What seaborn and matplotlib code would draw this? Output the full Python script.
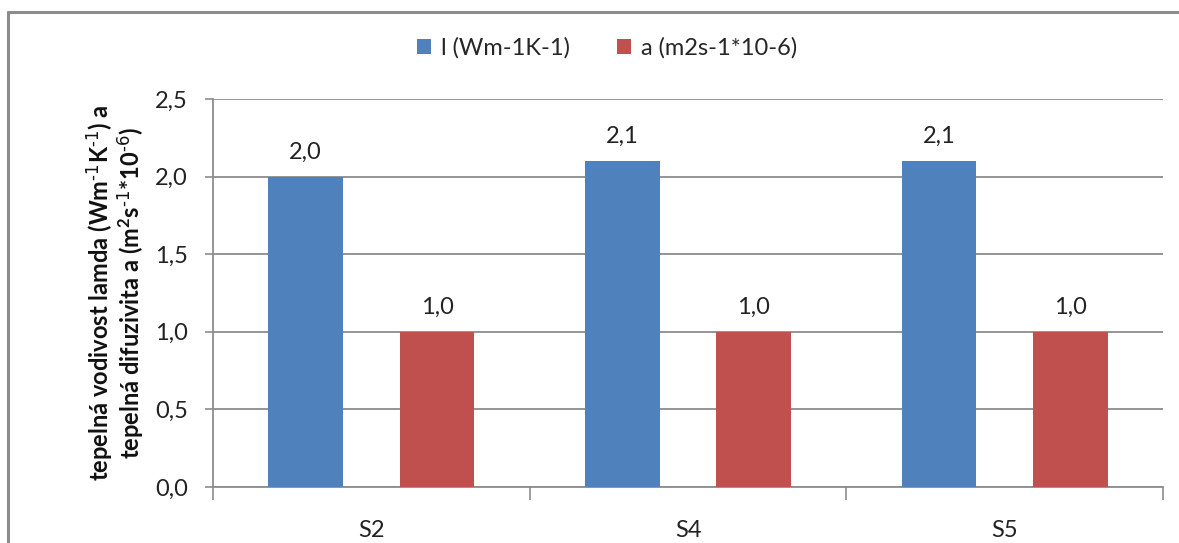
import matplotlib
matplotlib.use("Agg")
import matplotlib.pyplot as plt
import seaborn as sns
import pandas as pd
from matplotlib.lines import Line2D
from matplotlib.patches import Patch

categories = ["S2", "S4", "S5"]
series_names = ["l (Wm-1K-1)", "a (m2s-1*10-6)"]
lamda_values = [2.0, 2.1, 2.1]
difuz_values = [1.0, 1.0, 1.0]
yticks = [0.0, 0.5, 1.0, 1.5, 2.0, 2.5]
colors = ["#4F81BD", "#C0504D"]

df = pd.DataFrame({
    "cat": categories * 2,
    "series": [series_names[0]] * 3 + [series_names[1]] * 3,
    "val": lamda_values + difuz_values,
})

sns.set_theme(style="white")
plt.rcParams["font.family"] = ["Lato", "DejaVu Sans"]
plt.rcParams["mathtext.default"] = "regular"

fig = plt.figure(figsize=(11.79, 5.43), dpi=100)
ax = fig.add_axes([213/1179, 1-487/543, (1163-213)/1179, (487-99)/543])

sns.barplot(data=df, x="cat", y="val", hue="series", palette=colors,
            width=0.83, gap=0.43, ax=ax, legend=False, saturation=1,
            errorbar=None, zorder=3, linewidth=0, edgecolor="none")

ax.set_ylim(0, 2.5)
ax.set_xlim(-0.5, 2.5)
ax.set_yticks(yticks)
ax.set_yticklabels([f"{v:.1f}".replace(".", ",") for v in yticks], fontsize=17, color="#222222")
ax.yaxis.grid(True, color="#8c8c8c", linewidth=1.3, zorder=0)
ax.set_axisbelow(True)
ax.tick_params(axis="y", length=6, width=1.2, color="#8c8c8c", direction="out", left=True, pad=12)

# x ticks at category boundaries
ax.set_xticks([-0.5, 0.5, 1.5, 2.5], minor=False)
ax.set_xticklabels([])
ax.set_xticks([0, 1, 2], minor=True)
ax.set_xticklabels(categories, minor=True, fontsize=17, color="#222222")
ax.tick_params(axis="x", which="major", length=9, width=1.2, color="#8c8c8c", bottom=True)
ax.tick_params(axis="x", which="minor", length=0, pad=24)

for s in ["top", "right"]:
    ax.spines[s].set_visible(False)
for s in ["left", "bottom"]:
    ax.spines[s].set_color("#8c8c8c")
    ax.spines[s].set_linewidth(1.3)

ax.set_xlabel("")
ax.set_ylabel("tepelná vodivost lamda (Wm$^{\\text{-1}}$K$^{\\text{-1}}$) a\n"
              "tepelná difuzivita a (m$^{2}$s$^{\\text{-1}}$*10$^{\\text{-6}}$)",
              fontsize=17, fontweight="bold", color="#111111", linespacing=1.0)
ax.yaxis.set_label_coords(-0.071, 0.5)

for cont in ax.containers:
    ax.bar_label(cont, labels=[f"{v:.1f}".replace(".", ",") for v in cont.datavalues],
                 padding=10, fontsize=17, color="#222222")

handles = [Patch(facecolor=c, edgecolor="none") for c in colors]
fig.legend(handles, series_names, loc="center", bbox_to_anchor=(607/1179, 1-48/543),
           ncol=2, frameon=False, fontsize=17, handlelength=0.6, handleheight=0.6,
           columnspacing=2.0, handletextpad=0.4)

# outer chart frame (cropped)
fig.add_artist(Line2D([8/1179, 1.0], [1-12/543, 1-12/543], color="#8c8c8c", linewidth=2.2, transform=fig.transFigure))
fig.add_artist(Line2D([8/1179, 8/1179], [0, 1-12/543], color="#8c8c8c", linewidth=2.2, transform=fig.transFigure))

fig.savefig("out.png", dpi=100)
